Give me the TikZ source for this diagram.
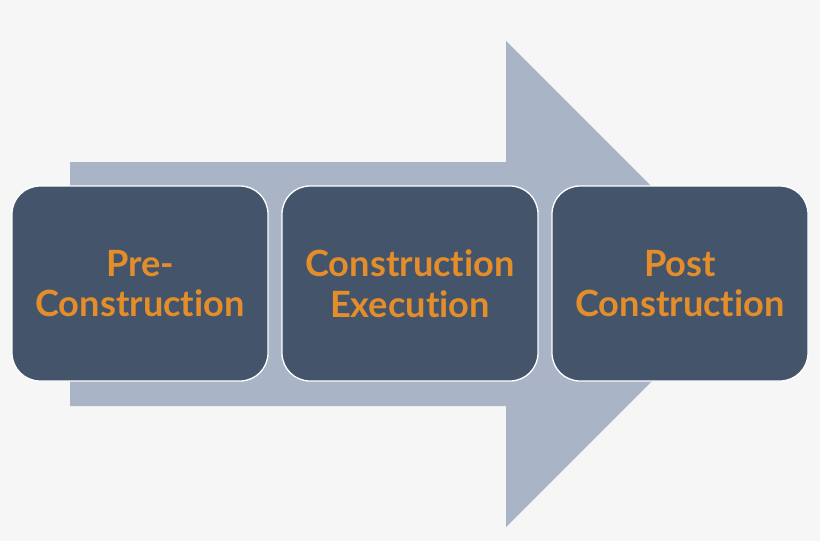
\documentclass[tikz,border=0pt]{standalone}
\usepackage{fontspec}
\setmainfont{Lato}[Ligatures=NoCommon]
\begin{document}
\begin{tikzpicture}[x=1pt,y=-1pt,
  stagebox/.style={draw=white, line width=1.3pt, fill=boxblue, rounded corners=28pt,
    minimum width=256pt, minimum height=195pt, inner sep=0pt,
    text=txtorange, font=\fontsize{36.2}{40.5}\selectfont\bfseries, align=center}]
\definecolor{bgc}{HTML}{F6F6F6}
\definecolor{arrowc}{HTML}{A9B5C7}
\definecolor{boxblue}{HTML}{44546A}
\definecolor{txtorange}{HTML}{E38D2B}
\fill[bgc] (0,0) rectangle (820,541);
\useasboundingbox (0,0) rectangle (820,541);
\fill[arrowc] (70,162) -- (506,162) -- (506,41) -- (749,284) -- (506,527) -- (506,406) -- (70,406) -- cycle;
\node[stagebox] (pre) at (140,283.5) {Pre-\\Construction};
\node[stagebox] (exec) at (410,283.5) {Construction\\Execution};
\node[stagebox] (post) at (680,283.5) {Post\\Construction};
\end{tikzpicture}
\end{document}
